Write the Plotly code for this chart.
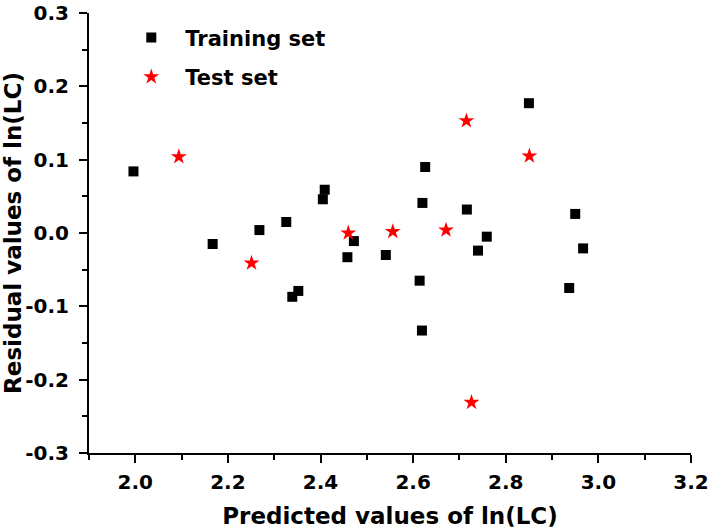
import plotly.graph_objects as go

train_x = [1.996, 2.167, 2.268, 2.326, 2.339, 2.352, 2.405, 2.409, 2.458, 2.472,
           2.541, 2.614, 2.619, 2.620, 2.626, 2.716, 2.740, 2.759, 2.850, 2.937,
           2.950, 2.967]
train_y = [0.084, -0.015, 0.004, 0.015, -0.087, -0.079, 0.046, 0.059, -0.033, -0.011,
           -0.030, -0.065, -0.133, 0.041, 0.090, 0.032, -0.024, -0.005, 0.177, -0.075,
           0.026, -0.021]
test_x = [2.094, 2.251, 2.460, 2.556, 2.671, 2.715, 2.726, 2.851]
test_y = [0.104, -0.041, 0.000, 0.002, 0.004, 0.153, -0.231, 0.105]

x_tickvals = [2.0, 2.2, 2.4, 2.6, 2.8, 3.0, 3.2]
x_ticktext = ["2.0", "2.2", "2.4", "2.6", "2.8", "3.0", "3.2"]
y_tickvals = [-0.3, -0.2, -0.1, 0.0, 0.1, 0.2, 0.3]
y_ticktext = ["-0.3", "-0.2", "-0.1", "0.0", "0.1", "0.2", "0.3"]

font_family = "DejaVu Sans, Arial, sans-serif"

fig = go.Figure()
fig.add_trace(go.Scatter(x=train_x, y=train_y, mode="markers", name="Training set",
                         legendgroup="train",
                         marker=dict(symbol="square", size=10, color="black")))
fig.add_trace(go.Scatter(x=test_x, y=test_y, mode="markers", name="Test set",
                         legendgroup="test",
                         marker=dict(symbol="star", size=12, color="red", line=dict(width=0))))

axis_common = dict(showgrid=False, zeroline=False, showline=True, linecolor="black",
                   linewidth=2, ticks="outside", ticklen=8, tickwidth=2, tickcolor="black",
                   automargin=False, ticklabeloverflow="allow",
                   tickfont=dict(family=font_family, size=20, color="black", weight="bold"))

fig.update_xaxes(range=[1.9, 3.2], tickmode="array", tickvals=x_tickvals, ticktext=x_ticktext,
                 ticklabelstandoff=2,
                 minor=dict(ticks="outside", ticklen=5, tickwidth=2, tickcolor="black",
                            tick0=1.9, dtick=0.1),
                 title=dict(text="Predicted values of ln(LC)",
                            font=dict(family=font_family, size=23, color="black", weight="bold"),
                            standoff=15),
                 **axis_common)
fig.update_yaxes(range=[-0.3, 0.3], tickmode="array", tickvals=y_tickvals, ticktext=y_ticktext,
                 ticklabelstandoff=6,
                 minor=dict(ticks="outside", ticklen=5, tickwidth=2, tickcolor="black",
                            tick0=0.05, dtick=0.1),
                 title=dict(text="Residual values of ln(LC)",
                            font=dict(family=font_family, size=23, color="black", weight="bold"),
                            standoff=14),
                 **axis_common)

fig.update_layout(width=710, height=531, plot_bgcolor="white", paper_bgcolor="white",
                  margin=dict(l=89, r=19, t=13, b=78, autoexpand=False),
                  legend=dict(x=0.047, y=0.99, xanchor="left", yanchor="top",
                              bgcolor="rgba(0,0,0,0)",
                              font=dict(family=font_family, size=21, color="black", weight="bold"),
                              itemwidth=58, tracegroupgap=9))

fig.write_html("out.html", config={"displayModeBar": False},
               post_script="document.body.style.margin='0';")
